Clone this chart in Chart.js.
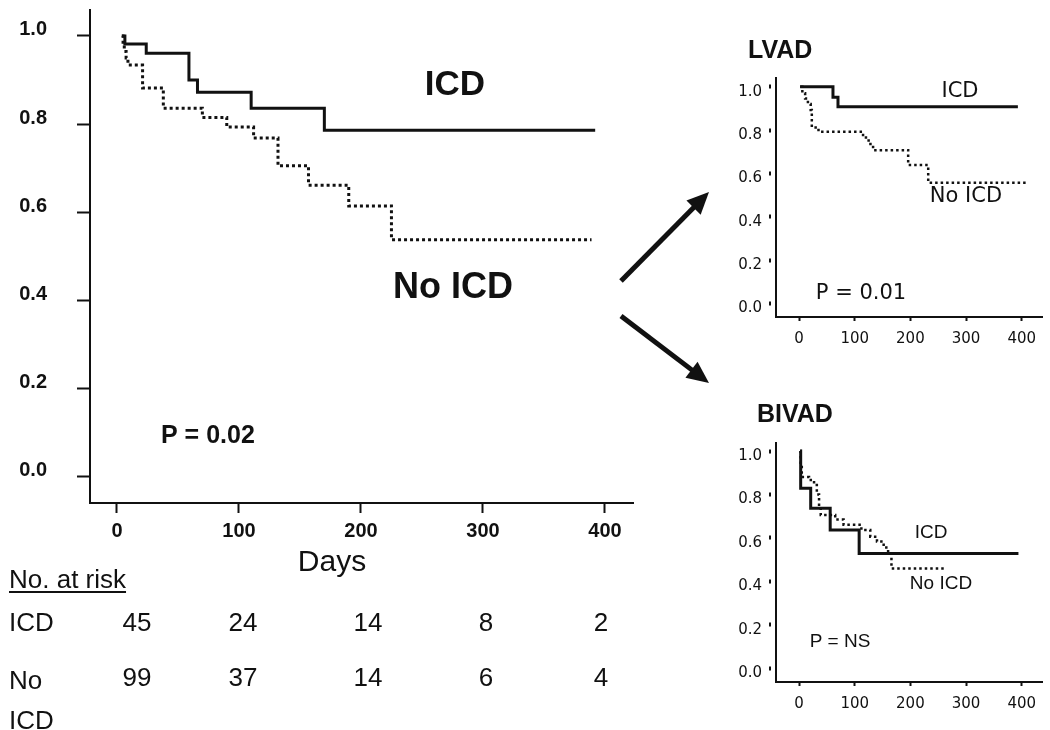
<!DOCTYPE html>
<html><head><meta charset="utf-8">
<script src="https://cdn.jsdelivr.net/npm/chart.js@4.4.1/dist/chart.umd.min.js"></script>
<style>
html,body{margin:0;padding:0;background:#fff;width:1050px;height:730px;overflow:hidden;}
canvas{position:absolute;display:block;}
</style></head><body>
<canvas id="main" width="720" height="730" style="left:0;top:0"></canvas>
<canvas id="lvad" width="330" height="330" style="left:720px;top:30px"></canvas>
<canvas id="bivad" width="330" height="340" style="left:720px;top:390px"></canvas>
<script>
// ---------------- DATA ----------------
const xTickDays = [0, 100, 200, 300, 400];
const yTickVals = [0, 0.2, 0.4, 0.6, 0.8, 1.0];

// Main (all patients)
const mainIcdDays = [4, 6.5, 24, 59, 66, 110, 170, 392];
const mainIcdSurv = [1.0, 0.982, 0.961, 0.900, 0.872, 0.836, 0.786, 0.786];
const mainNoDays  = [4, 5, 6, 7.5, 9, 21, 38, 70, 90, 112, 132, 157, 190, 225, 389];
const mainNoSurv  = [1.0, 0.98, 0.965, 0.95, 0.934, 0.882, 0.836, 0.815, 0.793, 0.768, 0.705, 0.661, 0.614, 0.537, 0.537];

// Number at risk
const riskGroups = ['ICD', 'No ICD'];
const riskIcd = [45, 24, 14, 8, 2];
const riskNoIcd = [99, 37, 14, 6, 4];

// LVAD
const lvIcdDays = [2, 61, 70, 393];
const lvIcdSurv = [1.0, 0.951, 0.907, 0.907];
const lvNoDays  = [2, 6, 11, 16, 21, 23, 35, 115, 125, 133, 196, 232, 409];
const lvNoSurv  = [1.0, 0.97, 0.945, 0.92, 0.892, 0.812, 0.792, 0.765, 0.735, 0.707, 0.638, 0.557, 0.557];

// BIVAD
const biIcdDays = [2, 3, 21, 56, 108, 394];
const biIcdSurv = [1.0, 0.828, 0.736, 0.636, 0.528, 0.528];
const biNoDays  = [2, 3, 5, 18, 27, 32, 36, 39, 65, 80, 112, 128, 140, 152, 160, 166, 262];
const biNoSurv  = [1.0, 0.94, 0.88, 0.866, 0.843, 0.80, 0.745, 0.705, 0.685, 0.66, 0.636, 0.605, 0.583, 0.555, 0.528, 0.459, 0.459];

// ---------------- HELPERS ----------------
const INK = '#111';
const ARIAL = '"Liberation Sans", Arial, Helvetica, sans-serif';
const DEJA = '"DejaVu Sans", Verdana, sans-serif';

function pts(days, surv) { return days.map((d, i) => ({ x: d, y: surv[i] })); }

function kmDataset(days, surv, dotted, width, dash) {
  return {
    data: pts(days, surv), stepped: 'before', borderColor: INK, backgroundColor: INK,
    borderWidth: width, borderDash: dotted ? dash : [], borderCapStyle: 'butt',
    pointRadius: 0, pointHoverRadius: 0, fill: false, tension: 0
  };
}

function decorPlugin(draw) {
  return { id: 'decor', afterDraw(chart) { const ctx = chart.ctx; ctx.save(); draw(ctx, chart); ctx.restore(); } };
}

function txt(ctx, s, x, y, font, align) {
  ctx.font = font; ctx.fillStyle = INK; ctx.textAlign = align || 'center'; ctx.textBaseline = 'middle';
  ctx.fillText(s, x, y);
}

function arrow(ctx, x1, y1, x2, y2) {
  const a = Math.atan2(y2 - y1, x2 - x1), L = 22, W = 10;
  const bx = x2 - L * Math.cos(a), by = y2 - L * Math.sin(a);
  ctx.strokeStyle = INK; ctx.fillStyle = INK; ctx.lineWidth = 5; ctx.lineCap = 'butt';
  ctx.beginPath(); ctx.moveTo(x1, y1); ctx.lineTo(bx + 2 * Math.cos(a), by + 2 * Math.sin(a)); ctx.stroke();
  ctx.beginPath(); ctx.moveTo(x2, y2);
  ctx.lineTo(bx + W * Math.sin(a), by - W * Math.cos(a));
  ctx.lineTo(bx - W * Math.sin(a), by + W * Math.cos(a));
  ctx.closePath(); ctx.fill();
}

function scales(o) {
  return {
    x: {
      type: 'linear', min: o.xmin, max: o.xmax,
      afterFit: s => { s.height = o.xh; s.paddingLeft = 0; s.paddingRight = 0; },
      afterBuildTicks: s => { s.ticks = xTickDays.map(v => ({ value: v })); },
      grid: { display: true, drawOnChartArea: false, drawTicks: true, tickLength: o.xtl, tickWidth: 2, tickColor: INK },
      border: { display: true, width: 2, color: INK },
      ticks: { font: o.tfont, color: INK, padding: o.xpad, maxRotation: 0, autoSkip: false, callback: v => String(v) }
    },
    y: {
      type: 'linear', min: o.ymin, max: o.ymax,
      afterFit: s => { s.width = o.yw; s.paddingTop = 0; s.paddingBottom = 0; },
      afterBuildTicks: s => { s.ticks = yTickVals.map(v => ({ value: v })); },
      grid: Object.assign({ display: true, drawOnChartArea: false, drawTicks: true, tickLength: o.ytl, tickWidth: o.ytw, tickColor: INK }, o.ydash ? { tickBorderDash: o.ydash } : {}),
      border: { display: true, width: 2, color: INK },
      ticks: { font: o.tfont, color: INK, padding: o.ypad, labelOffset: o.yoff, autoSkip: false, callback: v => Number(v).toFixed(1) }
    }
  };
}

const common = {
  responsive: false, animation: false, events: [],
  plugins: { legend: { display: false }, tooltip: { enabled: false } }
};

// ---------------- MAIN CHART ----------------
new Chart(document.getElementById('main'), {
  type: 'line',
  data: { datasets: [
    kmDataset(mainIcdDays, mainIcdSurv, false, 3),
    kmDataset(mainNoDays, mainNoSurv, true, 3, [3, 3])
  ] },
  options: Object.assign({}, common, {
    layout: { padding: { left: 0, top: 10, right: 87, bottom: 0 } },
    scales: scales({
      xmin: -22.1, xmax: 423, xh: 227, xtl: 10, xpad: 6,
      ymin: -0.061, ymax: 1.059, yw: 90, ytl: 13, ytw: 2, ypad: 30, yoff: -6,
      tfont: { family: ARIAL, size: 20, weight: 'bold' }
    })
  }),
  plugins: [decorPlugin((ctx, chart) => {
    txt(ctx, 'ICD', 455, 85, 'bold 35px ' + ARIAL);
    txt(ctx, 'No ICD', 453, 288, 'bold 36px ' + ARIAL);
    txt(ctx, 'P = 0.02', 161, 436, 'bold 25px ' + ARIAL, 'left');
    txt(ctx, 'Days', 332, 563, '30px ' + ARIAL);
    // number at risk table
    const f = '26px ' + ARIAL;
    ctx.font = f; ctx.fillStyle = INK; ctx.textAlign = 'left'; ctx.textBaseline = 'alphabetic';
    ctx.fillText('No. at risk', 9, 588);
    const w = ctx.measureText('No. at risk').width;
    ctx.fillRect(9, 591, w, 2);
    txt(ctx, riskGroups[0], 9, 624, f, 'left');
    txt(ctx, 'No', 9, 682, f, 'left');
    txt(ctx, 'ICD', 9, 722, f, 'left');
    const colX = [137, 243, 368, 486, 601];
    riskIcd.forEach((n, i) => txt(ctx, String(n), colX[i], 624, f));
    riskNoIcd.forEach((n, i) => txt(ctx, String(n), colX[i], 679, f));
    // arrows to the subgroup panels
    arrow(ctx, 621, 281, 709, 192);
    arrow(ctx, 621, 316, 709, 383);
  })]
});

// ---------------- LVAD ----------------
new Chart(document.getElementById('lvad'), {
  type: 'line',
  data: { datasets: [
    kmDataset(lvIcdDays, lvIcdSurv, false, 3),
    kmDataset(lvNoDays, lvNoSurv, true, 2.5, [2.5, 3])
  ] },
  options: Object.assign({}, common, {
    layout: { padding: { left: 0, top: 48, right: 8, bottom: 0 } },
    scales: scales({
      xmin: -41.3, xmax: 436.3, xh: 43, xtl: 4, xpad: 9,
      ymin: -0.063, ymax: 1.040, yw: 56, ytl: 7, ytw: 4, ydash: [2, 20], ypad: 7, yoff: 5,
      tfont: { family: DEJA, size: 15 }
    })
  }),
  plugins: [decorPlugin((ctx) => {
    txt(ctx, 'LVAD', 28, 21, 'bold 25px ' + ARIAL, 'left');
    txt(ctx, 'ICD', 240, 62, '21px ' + DEJA);
    txt(ctx, 'No ICD', 246, 167, '21px ' + DEJA);
    txt(ctx, 'P = 0.01', 141, 264, '21px ' + DEJA);
  })]
});

// ---------------- BIVAD ----------------
new Chart(document.getElementById('bivad'), {
  type: 'line',
  data: { datasets: [
    kmDataset(biIcdDays, biIcdSurv, false, 3),
    kmDataset(biNoDays, biNoSurv, true, 2.5, [2.5, 3])
  ] },
  options: Object.assign({}, common, {
    layout: { padding: { left: 0, top: 53, right: 8, bottom: 0 } },
    scales: scales({
      xmin: -41.3, xmax: 436.3, xh: 48, xtl: 4, xpad: 9,
      ymin: -0.0645, ymax: 1.037, yw: 56, ytl: 7, ytw: 4, ydash: [2, 20], ypad: 7, yoff: 5,
      tfont: { family: DEJA, size: 15 }
    })
  }),
  plugins: [decorPlugin((ctx) => {
    txt(ctx, 'BIVAD', 37, 25, 'bold 25px ' + ARIAL, 'left');
    txt(ctx, 'ICD', 211, 143, '19px ' + ARIAL);
    txt(ctx, 'No ICD', 221, 194, '19px ' + ARIAL);
    txt(ctx, 'P = NS', 120, 252, '19px ' + ARIAL);
  })]
});
</script>
</body></html>
